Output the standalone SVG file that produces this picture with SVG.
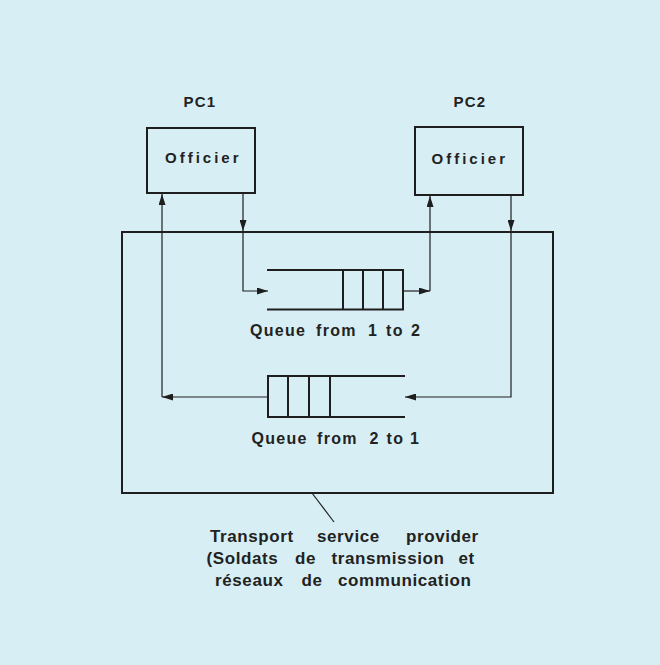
<svg xmlns="http://www.w3.org/2000/svg" width="660" height="665" viewBox="0 0 660 665">
<defs>
<style>
.t{font-family:"Liberation Sans",Arial,sans-serif;font-weight:bold;fill:#222;}
.box{fill:none;stroke:#1e1e1e;stroke-width:2;}
.q{fill:none;stroke:#1e1e1e;stroke-width:2;}
.c{fill:none;stroke:#1e1e1e;stroke-width:1.2;}
</style>
<marker id="ah" viewBox="0 0 11 7" refX="11" refY="3.5" markerWidth="11" markerHeight="7" markerUnits="userSpaceOnUse" orient="auto">
<path d="M0,0 L11,3.5 L0,7 Z" fill="#1e1e1e"/>
</marker>
</defs>
<rect x="0" y="0" width="660" height="665" fill="#d7eff4"/>

<g id="pc1">
<text class="t" x="183.5" y="107" font-size="15" letter-spacing="1.2">PC1</text>
<rect class="box" x="147" y="128" width="108" height="65"/>
<text class="t" x="165" y="162.5" font-size="15" letter-spacing="3">Officier</text>
</g>

<g id="pc2">
<text class="t" x="453.5" y="107" font-size="15" letter-spacing="1.2">PC2</text>
<rect class="box" x="415" y="127" width="108" height="68"/>
<text class="t" x="431.5" y="163.5" font-size="15" letter-spacing="3">Officier</text>
</g>

<g id="provider">
<rect class="box" x="122" y="232" width="431" height="261"/>
</g>

<g id="queue12">
<path class="q" d="M267,270 H403 V309.5 H267 M343,270 V309.5 M363,270 V309.5 M383,270 V309.5"/>
<text class="t" y="336" font-size="16" letter-spacing="1.3"><tspan x="250">Queue</tspan><tspan x="316">from</tspan><tspan x="368">1</tspan><tspan x="386">to</tspan><tspan x="411">2</tspan></text>
</g>

<g id="queue21">
<path class="q" d="M405,376 H268 V417 H405 M288,376 V417 M309,376 V417 M330,376 V417"/>
<text class="t" y="444" font-size="16" letter-spacing="1.3"><tspan x="251.5">Queue</tspan><tspan x="317">from</tspan><tspan x="369.5">2</tspan><tspan x="386.5">to</tspan><tspan x="410">1</tspan></text>
</g>

<g id="label">
<text class="t" font-size="17" letter-spacing="0.6">
<tspan x="210" y="542">Transport</tspan><tspan x="317" y="542">service</tspan><tspan x="406" y="542">provider</tspan>
<tspan x="206.5" y="564">(Soldats</tspan><tspan x="295" y="564">de</tspan><tspan x="331.5" y="564">transmission</tspan><tspan x="458.5" y="564">et</tspan>
<tspan x="215" y="586">réseaux</tspan><tspan x="301.5" y="586">de</tspan><tspan x="338" y="586">communication</tspan>
</text>
</g>

<g id="connectors">
<line class="c" x1="243" y1="193" x2="243" y2="231" marker-end="url(#ah)"/>
<polyline class="c" points="243,231 243,291 268,291" marker-end="url(#ah)"/>
<line class="c" x1="403" y1="291" x2="430" y2="291" marker-end="url(#ah)"/>
<line class="c" x1="430" y1="291" x2="430" y2="196" marker-end="url(#ah)"/>
<line class="c" x1="511" y1="195" x2="511" y2="231" marker-end="url(#ah)"/>
<polyline class="c" points="511,231 511,397 405,397" marker-end="url(#ah)"/>
<line class="c" x1="268" y1="397" x2="162" y2="397" marker-end="url(#ah)"/>
<line class="c" x1="162" y1="397" x2="162" y2="194" marker-end="url(#ah)"/>
<line class="c" x1="312" y1="493" x2="334" y2="522"/>
</g>
</svg>
